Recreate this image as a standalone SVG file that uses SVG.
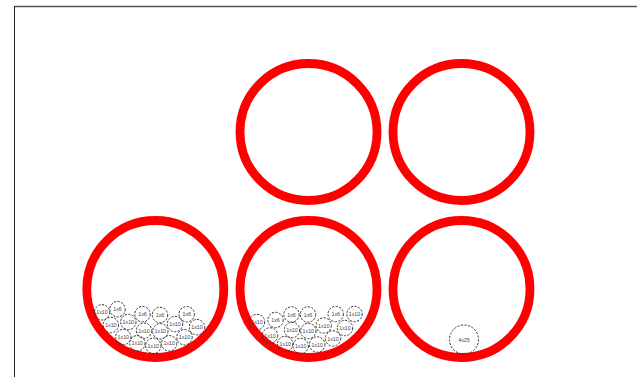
<svg xmlns="http://www.w3.org/2000/svg" width="637" height="377" viewBox="0 0 637 377">
<style>
.big{fill:none;stroke:#ff0000;stroke-width:8.8}
.sm{fill:none;stroke:#333;stroke-width:1;stroke-dasharray:2.2 1.4}
.t{font-family:"Liberation Sans",Arial,sans-serif;font-size:5.3px;fill:#444;text-anchor:middle;dominant-baseline:central}
.frame{stroke:#555;fill:none}
</style>
<rect width="637" height="377" fill="#fff"/>
<line class="frame" x1="14" y1="6.5" x2="637" y2="6.5" stroke-width="1.5"/>
<line class="frame" x1="14.5" y1="6" x2="14.5" y2="377" stroke-width="1" style="stroke:#222"/>
<defs>
<g id="c10"><circle class="sm" r="7.7"/><text class="t">1x10</text></g>
<g id="c6"><circle class="sm" r="7.7"/><text class="t">1x6</text></g>
</defs>
<g id="circle-top-1"><circle class="big" cx="308.5" cy="132" r="68.5"/></g>
<g id="circle-top-2"><circle class="big" cx="461.5" cy="132" r="68.5"/></g>
<g id="circle-bottom-1">
<circle class="big" cx="155.3" cy="289" r="68.5"/>
<use href="#c10" x="102" y="312.3"/>
<use href="#c6" x="117.5" y="309.2"/>
<use href="#c10" x="110.8" y="325"/>
<use href="#c10" x="128.3" y="322"/>
<use href="#c6" x="142.5" y="314.2"/>
<use href="#c6" x="160" y="315"/>
<use href="#c6" x="186.7" y="314.2"/>
<use href="#c10" x="123.3" y="337"/>
<use href="#c10" x="144" y="330.7"/>
<use href="#c10" x="160.3" y="331.3"/>
<use href="#c10" x="175" y="324"/>
<use href="#c10" x="197" y="327.2"/>
<use href="#c10" x="137.3" y="343.3"/>
<use href="#c10" x="153.3" y="345.8"/>
<use href="#c10" x="169.2" y="343.3"/>
<use href="#c10" x="184.5" y="337.2"/>
</g>
<g id="circle-bottom-2">
<circle class="big" cx="308.5" cy="289" r="68.5"/>
<use href="#c10" x="257" y="322"/>
<use href="#c6" x="275.5" y="320"/>
<use href="#c6" x="291.5" y="314.5"/>
<use href="#c6" x="308" y="314.5"/>
<use href="#c6" x="335.7" y="314"/>
<use href="#c10" x="354.5" y="314"/>
<use href="#c10" x="270" y="335.5"/>
<use href="#c10" x="292" y="330"/>
<use href="#c10" x="308.3" y="331"/>
<use href="#c10" x="323.7" y="325.5"/>
<use href="#c10" x="345" y="328"/>
<use href="#c10" x="285.2" y="344"/>
<use href="#c10" x="300.7" y="346"/>
<use href="#c10" x="317.2" y="344.5"/>
<use href="#c10" x="333" y="338.5"/>
</g>
<g id="circle-bottom-3">
<circle class="big" cx="461.5" cy="289" r="68.5"/>
<g id="item-4x25"><circle class="sm" cx="464" cy="339.5" r="14.5"/><text class="t" x="464" y="339.5">4x25</text></g>
</g>
</svg>
